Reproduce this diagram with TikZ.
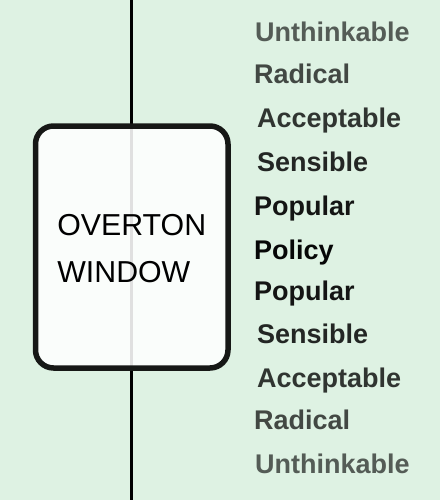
\documentclass[tikz,border=0pt]{standalone}
\usepackage{fontspec}
\setmainfont{Liberation Sans}
\usetikzlibrary{positioning}
\usepackage{xcolor}
\definecolor{OWGreen}{RGB}{222,242,227}
\definecolor{OWInk}{RGB}{22,24,22}

\begin{document}
\begin{tikzpicture}[
x=1pt,y=-1pt,
spine/.style={draw=black,line width=3pt},
window/.style={
    rectangle,
    rounded corners=18pt,
    draw=OWInk,
    line width=5.5pt,
    fill=white,
    fill opacity=0.88,
    minimum width=192.5pt,
    minimum height=242pt
},
caption/.style={align=left,inner sep=0pt,font=\fontsize{30.3}{47}\selectfont},
rung/.style={anchor=base west,inner sep=0pt,text=black,font=\fontsize{27}{27}\selectfont\bfseries}
]

\fill[OWGreen] (0,0) rectangle (440,500);
\useasboundingbox (0,0) rectangle (440,500);

\coordinate (top) at (131.5,0);
\coordinate (bottom) at (131.5,500);
\draw[spine] (top)--(bottom);

\node[window] (win) at (131.75,247) {};
\node[caption,yshift=-2pt] (title) at (win.center) {OVERTON\\WINDOW};

\foreach \word/\op/\px/\py [count=\i] in {
    Unthinkable/0.62/255/42,
    Radical/0.70/254/84,
    Acceptable/0.78/257/128,
    Sensible/0.84/257/171,
    Popular/0.91/254/215,
    Policy/0.97/254/259,
    Popular/0.91/254/300,
    Sensible/0.84/257/343,
    Acceptable/0.78/257/387,
    Radical/0.70/254/429,
    Unthinkable/0.62/255/473}
    \node[rung,text opacity=\op] (rung\i) at (\px,\py) {\word};

\end{tikzpicture}
\end{document}
